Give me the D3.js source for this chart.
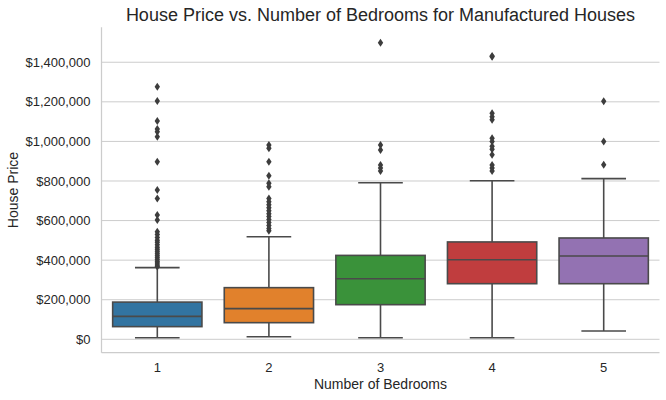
<!DOCTYPE html>
<html>
<head>
<meta charset="utf-8">
<script src="https://cdn.jsdelivr.net/npm/d3@7"></script>
<style>
  body { margin: 0; background: #fff; }
  svg text { font-family: "Liberation Sans", Arial, sans-serif; fill: #262626; }
</style>
</head>
<body>
<div class="chart"></div>
<script>
const width = 666;
const height = 400;

// box stats per bedroom count
const bedrooms = ['1', '2', '3', '4', '5'];
const whiskerLow = [8000, 13000, 8000, 8000, 42000];
const q1 = [64000, 84000, 175000, 281000, 281000];
const median = [116000, 155000, 306000, 402000, 421000];
const q3 = [188000, 261000, 424000, 492000, 512000];
const whiskerHigh = [362000, 518000, 791000, 801000, 812000];
const outliers = [
    [1276000, 1204000, 1103000, 1063000, 1049000, 1024000, 897000, 754000, 712000, 628000, 603000,
     544000, 530000, 515000, 500000, 490000, 478000, 465000, 455000, 445000, 435000, 425000, 415000,
     405000, 395000, 385000, 375000, 368000],
    [982000, 965000, 897000, 827000, 788000, 771000, 712000, 695000, 680000, 665000, 650000, 635000,
     620000, 605000, 590000, 575000, 560000, 548000],
    [1499000, 982000, 957000, 881000, 865000, 850000],
    [1432000, 1428000, 1142000, 1125000, 1109000, 1016000, 1000000, 975000, 960000, 932000,
     881000, 865000, 850000],
    [1203000, 999000, 882000]
];
const yTicks = [0, 200000, 400000, 600000, 800000, 1000000, 1200000, 1400000];
const colors = ['#3274a1', '#e1812c', '#3a923a', '#c03d3e', '#9372b2'];

const svg = d3.select('.chart').append('svg')
    .attr('width', width)
    .attr('height', height);

const plotLeft = 101.5, plotRight = 659.5, plotTop = 27.3, plotBottom = 352.7;

const xScale = d3.scaleBand()
    .domain(bedrooms)
    .range([plotLeft, plotRight])
    .paddingInner(0.2)
    .paddingOuter(0.1);

const yScale = d3.scaleLinear()
    .domain([-67700, 1576600])
    .range([plotBottom, plotTop]);

const lineColor = '#4a4a4a';

/*      grid lines      */
svg.append('g')
    .selectAll('line')
    .data(yTicks)
    .enter()
    .append('line')
    .attr('x1', plotLeft)
    .attr('x2', plotRight)
    .attr('y1', d => yScale(d))
    .attr('y2', d => yScale(d))
    .attr('stroke', '#cccccc')
    .attr('stroke-width', 1);

/*      y axis      */
const yAxis = d3.axisLeft(yScale)
    .tickValues(yTicks)
    .tickSize(0)
    .tickPadding(11)
    .tickFormat(d => '$' + d3.format(',')(d));
const yG = svg.append('g')
    .attr('transform', `translate(${plotLeft},0)`)
    .call(yAxis);
yG.select('.domain').remove();
yG.selectAll('text').style('font-size', '13px');

/*      x axis      */
const xAxis = d3.axisBottom(xScale).tickSize(0).tickPadding(10);
const xG = svg.append('g')
    .attr('transform', `translate(0,${plotBottom})`)
    .call(xAxis);
xG.select('.domain').remove();
xG.selectAll('text').style('font-size', '13px');

// spines
svg.append('line')
    .attr('x1', plotLeft).attr('x2', plotLeft)
    .attr('y1', plotTop).attr('y2', plotBottom)
    .attr('stroke', '#cccccc').attr('stroke-width', 1.25);
svg.append('line')
    .attr('x1', plotLeft).attr('x2', plotRight)
    .attr('y1', plotBottom).attr('y2', plotBottom)
    .attr('stroke', '#cccccc').attr('stroke-width', 1.25);

/*      boxes      */
const boxes = svg.append('g')
    .selectAll('g')
    .data(bedrooms)
    .enter()
    .append('g');

const cx = d => xScale(d) + xScale.bandwidth() / 2;
const capW = xScale.bandwidth() / 2;

// whiskers
boxes.append('line')
    .attr('x1', d => cx(d)).attr('x2', d => cx(d))
    .attr('y1', (d, i) => yScale(whiskerLow[i]))
    .attr('y2', (d, i) => yScale(q1[i]))
    .attr('stroke', lineColor).attr('stroke-width', 1.6);
boxes.append('line')
    .attr('x1', d => cx(d)).attr('x2', d => cx(d))
    .attr('y1', (d, i) => yScale(q3[i]))
    .attr('y2', (d, i) => yScale(whiskerHigh[i]))
    .attr('stroke', lineColor).attr('stroke-width', 1.6);
boxes.append('line')
    .attr('x1', d => cx(d) - capW / 2).attr('x2', d => cx(d) + capW / 2)
    .attr('y1', (d, i) => yScale(whiskerLow[i]))
    .attr('y2', (d, i) => yScale(whiskerLow[i]))
    .attr('stroke', lineColor).attr('stroke-width', 1.6);
boxes.append('line')
    .attr('x1', d => cx(d) - capW / 2).attr('x2', d => cx(d) + capW / 2)
    .attr('y1', (d, i) => yScale(whiskerHigh[i]))
    .attr('y2', (d, i) => yScale(whiskerHigh[i]))
    .attr('stroke', lineColor).attr('stroke-width', 1.6);

// box body
boxes.append('rect')
    .attr('x', d => xScale(d))
    .attr('width', xScale.bandwidth())
    .attr('y', (d, i) => yScale(q3[i]))
    .attr('height', (d, i) => yScale(q1[i]) - yScale(q3[i]))
    .attr('fill', (d, i) => colors[i])
    .attr('stroke', lineColor)
    .attr('stroke-width', 1.6);

// median
boxes.append('line')
    .attr('x1', d => xScale(d)).attr('x2', d => xScale(d) + xScale.bandwidth())
    .attr('y1', (d, i) => yScale(median[i]))
    .attr('y2', (d, i) => yScale(median[i]))
    .attr('stroke', lineColor).attr('stroke-width', 1.6);

// outliers as thin diamonds
boxes.each(function (d, i) {
    d3.select(this).selectAll('path.flier')
        .data(outliers[i])
        .enter()
        .append('path')
        .attr('class', 'flier')
        .attr('d', 'M0,-4L2.7,0L0,4L-2.7,0Z')
        .attr('transform', v => `translate(${cx(d)},${yScale(v)})`)
        .attr('fill', '#3d3d3d');
});

/*      titles      */
svg.append('text')
    .attr('x', (plotLeft + plotRight) / 2)
    .attr('y', 21)
    .attr('text-anchor', 'middle')
    .style('font-size', '18px')
    .text('House Price vs. Number of Bedrooms for Manufactured Houses');

svg.append('text')
    .attr('x', (plotLeft + plotRight) / 2)
    .attr('y', 389)
    .attr('text-anchor', 'middle')
    .style('font-size', '14px')
    .text('Number of Bedrooms');

svg.append('text')
    .attr('transform', `translate(18,${(plotTop + plotBottom) / 2}) rotate(-90)`)
    .attr('text-anchor', 'middle')
    .style('font-size', '14px')
    .text('House Price');
</script>
</body>
</html>
